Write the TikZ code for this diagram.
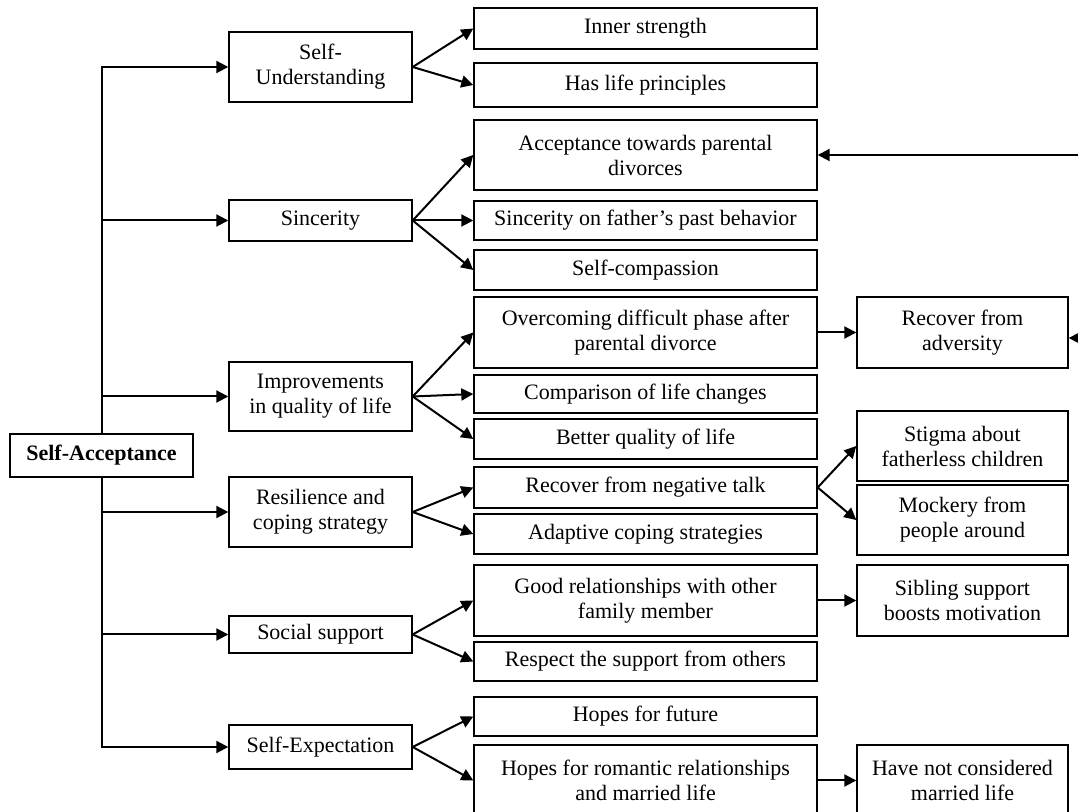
\documentclass[tikz,border=0pt]{standalone}
\usepackage{fontspec}
\setmainfont{Liberation Serif}
\usetikzlibrary{positioning, arrows.meta}

\begin{document}
\begin{tikzpicture}[x=0.5pt, y=-0.5pt, font=\fontsize{11}{12.5}\selectfont,
>={Triangle[length=6pt, width=6pt]},
box/.style={rectangle, draw, line width=0.7pt, align=center, inner sep=2pt},
lbox/.style={box, minimum width=91.5pt},
mbox/.style={box, minimum width=171.5pt},
rbox/.style={box, minimum width=105.5pt},
link/.style={line width=1pt},]
 \useasboundingbox (0,0) rectangle (1078,812);

 \node[lbox, minimum height=21.5pt, font=\fontsize{11}{12.5}\selectfont\bfseries] (selfacc) at (101.5,455.5) {Self-Acceptance};
 \node[lbox, minimum height=35pt] (selfund) at (320.5,67) {Self-\\Understanding};
 \node[lbox, minimum height=20.5pt] (sincerity) at (320.5,220.5) {Sincerity};
 \node[lbox, minimum height=34.5pt] (improve) at (320.5,396.5) {Improvements\\in quality of life};
 \node[lbox, minimum height=35pt] (resil) at (320.5,512) {Resilience and\\coping strategy};
 \node[lbox, minimum height=18.5pt] (social) at (320.5,634.5) {Social support};
 \node[lbox, minimum height=22pt] (selfexp) at (320.5,747) {Self-Expectation};

 \node[mbox, minimum height=20.5pt] (inner) at (645.5,28.5) {Inner strength};
 \node[mbox, minimum height=22pt] (lifeprin) at (645.5,85) {Has life principles};
 \node[mbox, minimum height=35pt] (accdiv) at (645.5,155) {Acceptance towards parental\\divorces};
 \node[mbox, minimum height=19.5pt] (father) at (645.5,220.5) {Sincerity on father’s past behavior};
 \node[mbox, minimum height=20pt] (selfcomp) at (645.5,270) {Self-compassion};
 \node[mbox, minimum height=35.5pt] (overcome) at (645.5,332.5) {Overcoming difficult phase after\\parental divorce};
 \node[mbox, minimum height=19pt] (compare) at (645.5,394) {Comparison of life changes};
 \node[mbox, minimum height=20pt] (betterq) at (645.5,439) {Better quality of life};
 \node[mbox, minimum height=20.5pt] (negtalk) at (645.5,487.5) {Recover from negative talk};
 \node[mbox, minimum height=20pt] (adaptive) at (645.5,534) {Adaptive coping strategies};
 \node[mbox, minimum height=35.5pt] (goodrel) at (645.5,600.5) {Good relationships with other\\family member};
 \node[mbox, minimum height=19.5pt] (respect) at (645.5,661.5) {Respect the support from others};
 \node[mbox, minimum height=19.5pt] (hopefut) at (645.5,716.5) {Hopes for future};
 \node[mbox, minimum height=35.5pt] (romance) at (645.5,780.5) {Hopes for romantic relationships\\and married life};

 \node[rbox, minimum height=35.5pt, right of=overcome, node distance=158.5pt] (adversity) {Recover from\\adversity};
 \node[rbox, minimum height=35pt] (stigma) at (962.5,446) {Stigma about\\fatherless children};
 \node[rbox, minimum height=35pt] (mockery) at (962.5,520) {Mockery from\\people around};
 \node[rbox, minimum height=35.5pt, right of=goodrel, node distance=158.5pt] (sibling) {Sibling support\\boosts motivation};
 \node[rbox, minimum height=35.5pt, right of=romance, node distance=158.5pt] (married) {Have not considered\\married life};
 \coordinate (feedtop) at (1078,155);
 \coordinate (feedmid) at (1078,338);

 \draw[link, ->] (selfacc.north) |- (selfund.west);
 \draw[link, ->] (selfacc.north) |- (sincerity.west);
 \draw[link, ->] (selfacc.north) |- (improve.west);
 \draw[link, ->] (selfacc.south) |- (resil.west);
 \draw[link, ->] (selfacc.south) |- (social.west);
 \draw[link, ->] (selfacc.south) |- (selfexp.west);

 \draw[link, ->] (selfund.east) -- (inner.west);
 \draw[link, ->] (selfund.east) -- (lifeprin.west);
 \draw[link, ->] (sincerity.east) -- (accdiv.west);
 \draw[link, ->] (sincerity.east) -- (father.west);
 \draw[link, ->] (sincerity.east) -- (selfcomp.west);
 \draw[link, ->] (improve.east) -- (overcome.west);
 \draw[link, ->] (improve.east) -- (compare.west);
 \draw[link, ->] (improve.east) -- (betterq.west);
 \draw[link, ->] (resil.east) -- (negtalk.west);
 \draw[link, ->] (resil.east) -- (adaptive.west);
 \draw[link, ->] (social.east) -- (goodrel.west);
 \draw[link, ->] (social.east) -- (respect.west);
 \draw[link, ->] (selfexp.east) -- (hopefut.west);
 \draw[link, ->] (selfexp.east) -- (romance.west);

 \draw[link, ->] (overcome) -- (adversity);
 \draw[link, ->] (negtalk.east) -- (stigma.west);
 \draw[link, ->] (negtalk.east) -- (mockery.west);
 \draw[link, ->] (goodrel) -- (sibling);
 \draw[link, ->] (romance) -- (married);
 \draw[link, ->] (feedtop) -- (accdiv.east);
 \draw[link, ->] (feedmid) -- (adversity.east |- feedmid);
\end{tikzpicture}
\end{document}
